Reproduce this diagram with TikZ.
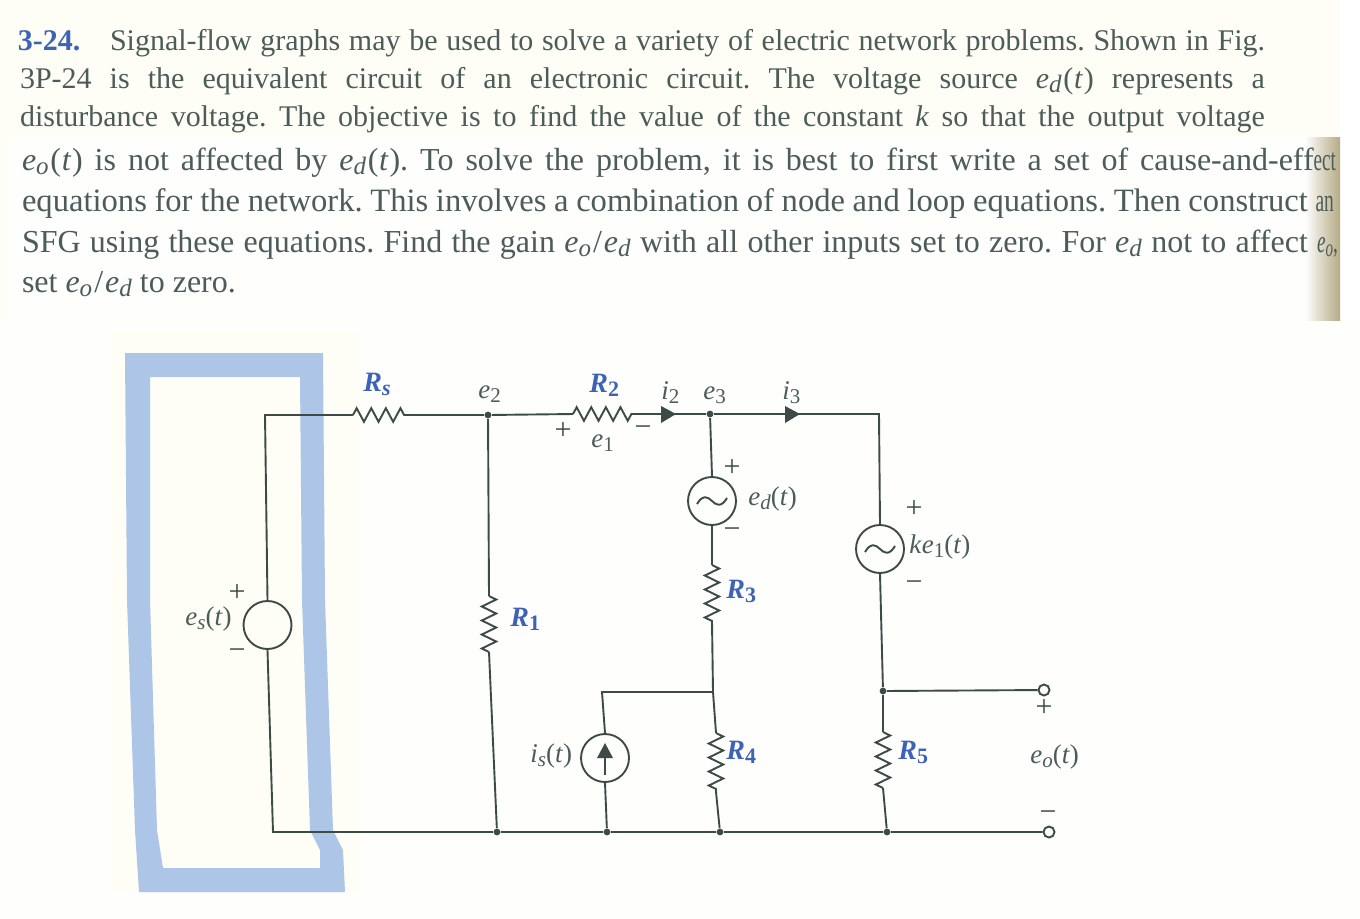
\documentclass[tikz,border=0pt]{standalone}
\usepackage{graphicx}
\usepackage{fontspec}
\setmainfont{Liberation Serif}
\usetikzlibrary{decorations.pathmorphing,calc}
\definecolor{ink}{HTML}{3C4B45}
\definecolor{txt}{HTML}{4C5C59}
\definecolor{rblue}{HTML}{3E62B6}
\definecolor{frameblue}{HTML}{ADC6E7}
\definecolor{paper}{HTML}{FEFEFD}
\definecolor{cream}{HTML}{FEFEF7}
\definecolor{shade}{HTML}{B5AB85}
\newcommand{\tl}[3]{\node[bodytext,anchor=base west] at (#1,#2) {#3};}
\newcommand{\ssb}[1]{\textit{e}\raisebox{-2.2pt}{\fontsize{12.5}{12}\selectfont\textit{#1}}}
\newcommand{\tpar}{\kern0.8pt(\kern0.4pt\textit{t}\kern0.4pt)}
\newcommand{\ratio}{\ssb{o}\kern1pt/\kern1pt\ssb{d}}
\newcommand{\lsb}[2]{\textit{#1}\raisebox{-2pt}{\fontsize{10.5}{10}\selectfont #2}}
\newcommand{\rsb}[1]{R\raisebox{-2pt}{\fontsize{11}{11}\selectfont #1}}
\tikzset{x=0.5pt,y=-0.5pt,
  wire/.style={draw=ink,line width=0.95pt},
  bodytext/.style={inner sep=0,outer sep=0,text=txt,font=\fontsize{15}{18}\selectfont\frenchspacing},
  lab/.style={inner sep=0,text=txt,font=\fontsize{13.5}{15}\selectfont,anchor=base west},
  rlab/.style={inner sep=0,text=rblue,font=\fontsize{14}{16}\selectfont\bfseries\itshape,anchor=base west},
  sign/.style={inner sep=0,text=ink,font=\fontsize{15}{15}\selectfont},
  dot/.style={circle,fill=ink,inner sep=0,minimum size=3.4pt},
  src/.style={circle,draw=ink,line width=0.95pt,fill=none,inner sep=0,minimum size=24pt},
  term/.style={circle,draw=ink,line width=0.95pt,fill=paper,inner sep=0,minimum size=5.5pt},
  resh/.style={wire,decorate,decoration={zigzag,segment length=7.3pt,amplitude=3.4pt}},
  resv/.style={wire,decorate,decoration={zigzag,segment length=7pt,amplitude=3.6pt}},
  arrowtri/.style={fill=ink,draw=none}
}
\newcommand{\sinewave}[1]{\draw[ink,line width=0.95pt,shift={(#1.center)}] (-15,3) .. controls (-9,-7) and (-4,-4) .. (0,0) .. controls (4,4) and (9,7) .. (15,-3);}
\begin{document}
\begin{tikzpicture}
\useasboundingbox (0,0) rectangle (1360,918);
\fill[white] (0,0) rectangle (1360,918);
\fill[cream] (0,0) rectangle (1340,137);
\fill[paper] (8,137) rectangle (1310,320);
\fill[cream] (0,137) rectangle (8,320);
\fill[paper] (0,320) rectangle (1360,918);
\fill[cream] (110,330) rectangle (360,892);
\shade[left color=paper,right color=shade] (1305,137) rectangle (1340,320);
% blue frame
\fill[frameblue,even odd rule] (125,353) -- (323,353) -- (325,600) -- (333,830) -- (343,850) -- (345,892) -- (139,892) -- (135,830) -- (127,600) -- cycle
  (150,377) -- (300,377) -- (302,600) -- (310,830) -- (320,850) -- (320,868) -- (163,868) -- (157,830) -- (150,600) -- cycle;
% text
\node[bodytext,anchor=base west,text=rblue,font=\fontsize{15}{18}\selectfont\bfseries] at (18,50) {3-24.};
\tl{110}{50}{\makebox[577.5pt][s]{Signal-flow graphs may be used to solve a variety of electric network problems. Shown in Fig.}}
\tl{20}{88}{\makebox[622.5pt][s]{3P-24 is the equivalent circuit of an electronic circuit. The voltage source \ssb{d}\tpar{} represents a}}
\tl{20}{126}{\makebox[622.5pt][s]{disturbance voltage. The objective is to find the value of the constant \textit{k} so that the output voltage}}
\tl{22}{170}{\fontsize{16}{18}\selectfont\makebox[657pt][s]{\ssb{o}\tpar{} is not affected by \ssb{d}\tpar. To solve the problem, it is best to first write a set of cause-and-eff\scalebox{.6}[1]{ect}}}
\tl{22}{211}{\fontsize{16.3}{18}\selectfont\makebox[656pt][s]{equations for the network. This involves a combination of node and loop equations. Then construct \scalebox{.6}[1]{an}}}
\tl{22}{252}{\fontsize{16}{18}\selectfont\makebox[658pt][s]{SFG using these equations. Find the gain \ratio{} with all other inputs set to zero. For \ssb{d} not to affect \scalebox{.6}[1]{\ssb{o},}}}
\tl{22}{292}{\fontsize{16}{18}\selectfont set \ratio{} to zero.}
% circuit nodes
\coordinate (tl) at (265,415);
\coordinate (rsa) at (353,415);
\coordinate (rsb) at (411,415);
\node[dot] (n2) at (488,415) {};
\coordinate (r2a) at (573,414);
\coordinate (r2b) at (632,414);
\node[dot] (n3) at (710,414) {};
\coordinate (tr) at (879,414);
\node[src] (es) at (267.5,625) {};
\node[src] (ed) at (712,501) {};
\node[src] (ke) at (880,549) {};
\node[src] (is) at (605,758) {};
\coordinate (r1a) at (489,596);
\coordinate (r1b) at (489,652);
\coordinate (r3a) at (712,565);
\coordinate (r3b) at (712,622);
\coordinate (r4a) at (716,733);
\coordinate (r4b) at (716,792);
\coordinate (r5a) at (883,732);
\coordinate (r5b) at (883,788);
\coordinate (bl) at (273,832);
\node[dot] (b1) at (497,832) {};
\node[dot] (b2) at (607,832) {};
\node[dot] (b3) at (720,832) {};
\node[dot] (b4) at (887,832) {};
\node[term] (tm) at (1049,832) {};
\node[dot] (o5) at (883,691) {};
\node[term] (tp) at (1044,690) {};
\coordinate (j4) at (713,692);
\coordinate (j0) at (602,692);
% wires
\draw[wire] (es.north) -- (tl) -- (rsa);
\draw[resh] (rsa) -- (rsb);
\draw[wire] (rsb) -- (n2) -- (r2a);
\draw[resh] (r2a) -- (r2b);
\draw[wire] (r2b) -- (n3) -- (tr) -- (ke.north);
\draw[wire] (n3) -- (ed.north);
\draw[wire] (ed.south) -- (r3a);
\draw[resv] (r3a) -- (r3b);
\draw[wire] (r3b) -- (j4) -- (r4a);
\draw[resv] (r4a) -- (r4b);
\draw[wire] (r4b) -- (b3);
\draw[wire] (j4) -- (j0) -- (is.north);
\draw[wire] (is.south) -- (b2);
\draw[wire] (ke.south) -- (o5) -- (r5a);
\draw[resv] (r5a) -- (r5b);
\draw[wire] (r5b) -- (b4);
\draw[wire] (o5) -- (tp);
\draw[wire] (n2) -- (r1a);
\draw[resv] (r1a) -- (r1b);
\draw[wire] (r1b) -- (b1);
\draw[wire] (es.south) -- (bl) -- (b1) -- (b2) -- (b3) -- (b4) -- (tm);
\sinewave{ed}
\sinewave{ke}
% arrows
\fill[arrowtri] (661,406) -- (676,414) -- (661,423) -- cycle;
\fill[arrowtri] (785,406) -- (800,414) -- (785,423) -- cycle;
\fill[arrowtri] (605,743) -- (613,758) -- (597,758) -- cycle;
\draw[wire] (605,755) -- (605,775);
% labels
\node[rlab] at (363,391) {\rsb{s}};
\node[rlab] at (589,392) {\rsb{\upshape 2}};
\node[rlab] at (510,626) {\rsb{\upshape 1}};
\node[rlab] at (726,598) {\rsb{\upshape 3}};
\node[rlab] at (726,759) {\rsb{\upshape 4}};
\node[rlab] at (898,759) {\rsb{\upshape 5}};
\node[lab] at (478,398) {\lsb{e}{2}};
\node[lab] at (661,399) {\lsb{i}{2}};
\node[lab] at (703,399) {\lsb{e}{3}};
\node[lab] at (782,399) {\lsb{i}{3}};
\node[lab] at (591,447) {\lsb{e}{1}};
\node[lab] at (748,505) {\lsb{e}{\textit{d}}(\textit{t})};
\node[lab] at (909,553) {\textit{k}\lsb{e}{1}(\textit{t})};
\node[lab] at (185,625) {\lsb{e}{\textit{s}}(\textit{t})};
\node[lab] at (530,762) {\lsb{i}{\textit{s}}(\textit{t})};
\node[lab] at (1030,763) {\lsb{e}{\textit{o}}(\textit{t})};
\node[sign] at (563,431) {+};
\node[sign] at (643,431) {−};
\node[sign] at (732,468) {+};
\node[sign] at (732,533) {−};
\node[sign] at (914,509) {+};
\node[sign] at (914,586) {−};
\node[sign] at (237,593) {+};
\node[sign] at (237,654) {−};
\node[sign] at (1044,708) {+};
\node[sign] at (1048,816) {−};
\end{tikzpicture}
\end{document}
